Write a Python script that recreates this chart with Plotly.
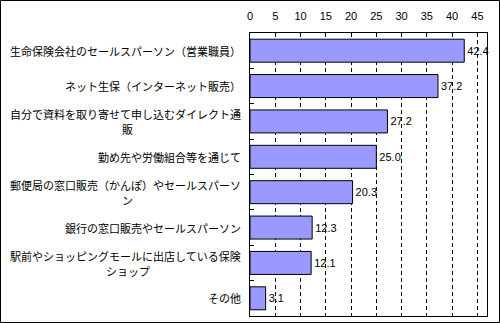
import plotly.graph_objects as go

categories = [
    "生命保険会社のセールスパーソン（営業職員）",
    "ネット生保（インターネット販売）",
    "自分で資料を取り寄せて申し込むダイレクト通販",
    "勤め先や労働組合等を通じて",
    "郵便局の窓口販売（かんぽ）やセールスパーソン",
    "銀行の窓口販売やセールスパーソン",
    "駅前やショッピングモールに出店している保険ショップ",
    "その他",
]
# wrapped label lines, as in the reference
label_lines = [
    ["生命保険会社のセールスパーソン（営業職員）"],
    ["ネット生保（インターネット販売）"],
    ["自分で資料を取り寄せて申し込むダイレクト通", "販"],
    ["勤め先や労働組合等を通じて"],
    ["郵便局の窓口販売（かんぽ）やセールスパーソ", "ン"],
    ["銀行の窓口販売やセールスパーソン"],
    ["駅前やショッピングモールに出店している保険", "ショップ"],
    ["その他"],
]
values = [42.4, 37.2, 27.2, 25.0, 20.3, 12.3, 12.1, 3.1]
x_ticks = [0, 5, 10, 15, 20, 25, 30, 35, 40, 45]

W, H = 500, 323
L, R, T, B = 250, 13, 33, 7
pw, ph = W - L - R, H - T - B
FS = 11
right_px = 243  # right edge of category labels

fig = go.Figure()
fig.add_trace(go.Bar(
    y=categories, x=values, orientation="h",
    marker=dict(color="#9999FF", line=dict(color="black", width=1)),
    width=0.65,
    text=values, texttemplate="%{x:.1f}", textposition="outside",
    textfont=dict(family="Liberation Sans, Arial", size=11, color="black"),
    cliponaxis=False,
))

for c, lines in zip(categories, label_lines):
    font = dict(family="Noto Sans CJK JP", size=FS, color="black")
    if len(lines) == 1:
        fig.add_annotation(
            x=(right_px - L) / pw, xref="paper", y=c, yref="y", text=lines[0],
            showarrow=False, xanchor="right", yanchor="middle", font=font)
    else:
        w1 = len(lines[0]) * FS
        fig.add_annotation(
            x=(right_px - L) / pw, xref="paper", y=c, yref="y", text=lines[0],
            showarrow=False, xanchor="right", yanchor="middle", yshift=7, font=font)
        fig.add_annotation(
            x=(right_px - w1 / 2 - L) / pw, xref="paper", y=c, yref="y", text=lines[1],
            showarrow=False, xanchor="center", yanchor="middle", yshift=-8, font=font)

# outer border
fig.add_shape(type="rect", xref="paper", yref="paper",
              x0=(0.5 - L) / pw, x1=(W - 0.5 - L) / pw,
              y0=(H - B - (H - 0.5)) / ph, y1=(H - B - 0.5) / ph,
              line=dict(color="black", width=1), fillcolor="rgba(0,0,0,0)")

fig.update_layout(
    width=W, height=H, margin=dict(l=L, r=R, t=T, b=B),
    paper_bgcolor="white", plot_bgcolor="white", showlegend=False,
    xaxis=dict(
        side="top", range=[0, 46.9], tickvals=x_ticks,
        showgrid=True, gridcolor="black", gridwidth=1, griddash="4px,3px",
        showline=True, linecolor="black", linewidth=1, mirror=True,
        zeroline=False, ticks="", ticklabelstandoff=8,
        tickfont=dict(family="Liberation Sans, Arial", size=11, color="black"),
    ),
    yaxis=dict(
        autorange="reversed", showticklabels=False,
        showline=True, linecolor="black", linewidth=1, mirror=True,
        ticks="inside", tickson="boundaries", ticklen=4, tickcolor="black",
        showgrid=False, zeroline=False,
    ),
)

fig.write_html("out.html")
